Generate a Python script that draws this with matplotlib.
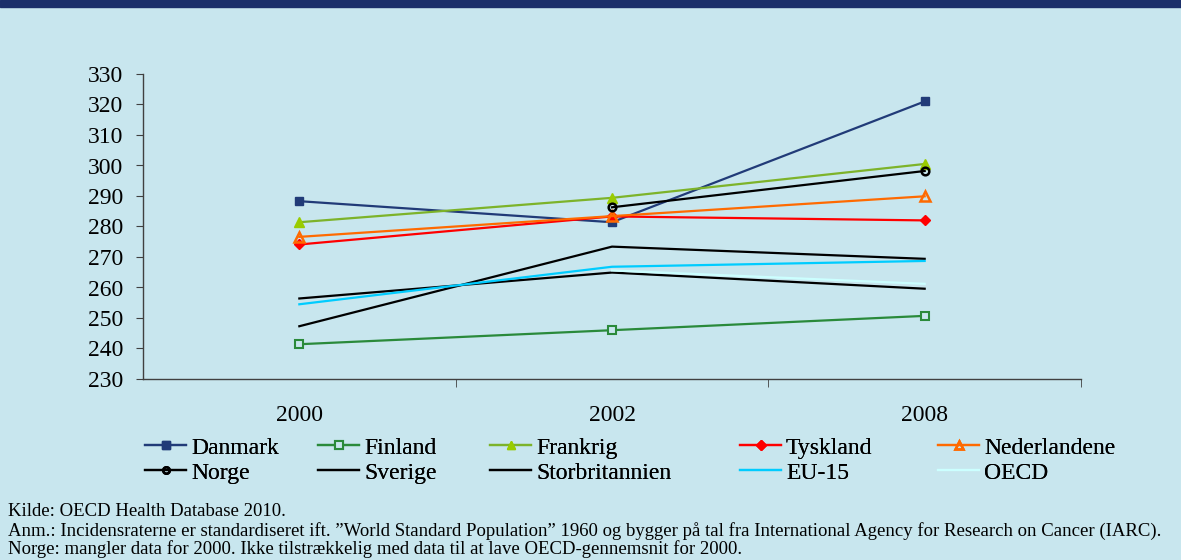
import matplotlib
matplotlib.use("Agg")
import matplotlib.pyplot as plt
import numpy as np

years = ["2000", "2002", "2008"]
danmark = [288.3, 281.4, 321.0]
finland = [241.4, 246.0, 250.7]
frankrig = [281.4, 289.4, 300.5]
tyskland = [274.1, 283.3, 282.0]
nederlandene = [276.6, 283.4, 289.9]
norge = [np.nan, 286.3, 298.2]
sverige = [256.4, 264.9, 259.6]
storbritannien = [247.3, 273.4, 269.4]
eu15 = [254.5, 266.8, 268.7]
oecd = [np.nan, 265.6, 261.2]
yticks = [230, 240, 250, 260, 270, 280, 290, 300, 310, 320, 330]

BG = "#C8E6EE"
W, H = 1181, 560
fig = plt.figure(figsize=(W/100, H/100), dpi=100, facecolor=BG)
plt.rcParams['font.family'] = ['Liberation Serif', 'DejaVu Serif']

# top band
fig.patches.append(plt.Rectangle((0, 1-7/H), 1, 7/H, transform=fig.transFigure,
                                 color="#1B2F6A", zorder=0))

ax = fig.add_axes([143/W, 1-379/H, (1081-143)/W, (379-74)/H])
ax.set_facecolor(BG)
x = np.arange(len(years))

series = [
    ("Danmark", danmark, dict(color="#213B78", marker="s", ms=6, mfc="#213B78", mec="#213B78")),
    ("Finland", finland, dict(color="#2A8A3A", marker="s", ms=6, mfc="#C8E6EE", mec="#2A8A3A", mew=1.5)),
    ("Frankrig", frankrig, dict(color="#7DB32A", marker="^", ms=7.5, mfc="#99CC00", mec="#99CC00")),
    ("Tyskland", tyskland, dict(color="#FF0000", marker="D", ms=5.5, mfc="#FF0000", mec="#FF0000")),
    ("Nederlandene", nederlandene, dict(color="#FF6A00", marker="^", ms=7.5, mfc="none", mec="#FF6A00", mew=1.8)),
    ("Norge", norge, dict(color="#000000", marker="o", ms=5.5, mfc="none", mec="#000000", mew=1.8)),
    ("Sverige", sverige, dict(color="#000000")),
    ("Storbritannien", storbritannien, dict(color="#000000")),
    ("EU-15", eu15, dict(color="#00CCFF")),
    ("OECD", oecd, dict(color="#CCFFFF")),
]
handles = {}
for name, vals, st in series:
    h, = ax.plot(x, vals, lw=1.6, label=name, **st)
    handles[name] = h

ax.set_xlim(-0.5, 2.5)
ax.set_ylim(230, 330)
ax.set_yticks(yticks)
ax.set_xticks(x)
ax.set_xticklabels(years, fontsize=17)
ax.set_xticks([0.5, 1.5, 2.5], minor=True)
ax.tick_params(axis="x", which="major", length=0, pad=19)
ax.tick_params(axis="x", which="minor", length=6, color="#404040", direction="out")
ax.tick_params(axis="y", labelsize=17, length=5, color="#404040", direction="out", pad=9)
for s in ["top", "right"]:
    ax.spines[s].set_visible(False)
for s in ["left", "bottom"]:
    ax.spines[s].set_color("#404040")
    ax.spines[s].set_linewidth(1.0)

cols = [["Danmark", "Norge"], ["Finland", "Sverige"], ["Frankrig", "Storbritannien"],
        ["Tyskland", "EU-15"], ["Nederlandene", "OECD"]]
xs = [145, 318, 490, 740, 938]
for cx, names in zip(xs, cols):
    leg = fig.legend([handles[n] for n in names], names, loc="upper left",
                     bbox_to_anchor=(cx/W, 1-437/H), frameon=False, fontsize=17,
                     handlelength=1.75, handletextpad=0.2, labelspacing=0.15,
                     borderpad=0, borderaxespad=0, markerscale=0.85)
    fig.add_artist(leg)

foot = ["Kilde: OECD Health Database 2010.",
        "Anm.: Incidensraterne er standardiseret ift. \u201dWorld Standard Population\u201d 1960 og bygger på tal fra International Agency for Research on Cancer (IARC).",
        "Norge: mangler data for 2000. Ikke tilstrækkelig med data til at lave OECD-gennemsnit for 2000."]
for i, t in enumerate(foot):
    fig.text(8/W, 1-([511, 531, 549][i])/H, t, fontsize=13.5, va="center", ha="left")

fig.savefig("out.png", dpi=100, facecolor=BG)
